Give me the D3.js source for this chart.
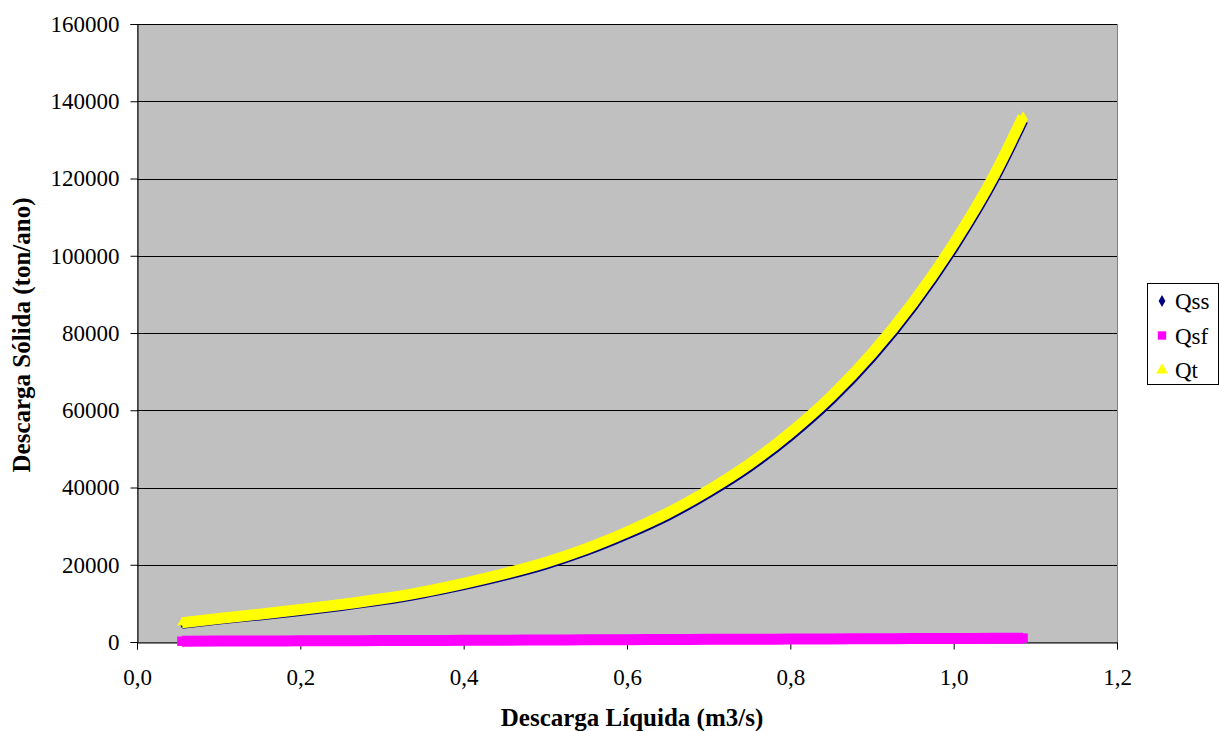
<!DOCTYPE html>
<html><head><meta charset="utf-8">
<script src="https://cdn.jsdelivr.net/npm/d3@7"></script>
<style>body{margin:0;background:#fff}svg{display:block}</style>
</head><body>
<script>
// ---- data ----
const xValues = [0.055,0.1,0.15,0.2,0.25,0.3,0.35,0.4,0.45,0.5,0.55,0.6,0.65,0.7,0.75,0.8,0.85,0.9,0.95,1.0,1.05,1.085];
const qtValues = [5000,6100,7200,8400,9700,11200,13000,15200,17700,20600,24200,28500,33400,39300,46100,54200,63600,74700,87800,103100,121000,136000];
const qsfValues = [200,230,260,300,330,370,400,440,480,520,560,600,640,680,720,760,800,840,880,920,960,1000];
const qssValues = [4800,5870,6940,8100,9370,10830,12600,14760,17220,20080,23640,27900,32760,38620,45380,53440,62800,73860,86920,102180,120040,135000];
const seriesNames = ["Qss","Qsf","Qt"];
const yTicks = [0,20000,40000,60000,80000,100000,120000,140000,160000];
const xTicks = [0,0.2,0.4,0.6,0.8,1.0,1.2];
const xTitle = "Descarga Líquida (m3/s)";
const yTitle = "Descarga Sólida (ton/ano)";

const W = 1219, H = 731;
const plot = {left:137, right:1117, top:24, bottom:642};
const font = "'Liberation Serif','Times New Roman',serif";

const svg = d3.select("body").append("svg").attr("width",W).attr("height",H);

const x = d3.scaleLinear().domain([0,1.2]).range([plot.left,plot.right]);
const y = d3.scaleLinear().domain([0,160000]).range([plot.bottom,plot.top]);

// plot background
svg.append("rect").attr("x",plot.left+0.5).attr("y",plot.top+0.5)
  .attr("width",plot.right-plot.left).attr("height",plot.bottom-plot.top)
  .attr("fill","#C0C0C0").attr("stroke","#808080").attr("stroke-width",1);

// gridlines
svg.append("g").selectAll("line").data(yTicks.filter(d=>d>0)).join("line")
  .attr("x1",plot.left).attr("x2",plot.right)
  .attr("y1",d=>Math.round(y(d))+0.5).attr("y2",d=>Math.round(y(d))+0.5)
  .attr("stroke","#000").attr("stroke-width",1);

// axes
const fmtX = d => d3.format(".1f")(d).replace(".",",");
const yAxis = d3.axisLeft(y).tickValues(yTicks).tickFormat(d3.format("d")).tickSize(7).tickPadding(11);
const xAxis = d3.axisBottom(x).tickValues(xTicks).tickFormat(fmtX).tickSize(7).tickPadding(19);
const gy = svg.append("g").attr("transform",`translate(${plot.left+0.5},0)`).call(yAxis);
const gx = svg.append("g").attr("transform",`translate(0,${plot.bottom+0.5})`).call(xAxis);
[gx,gy].forEach(g=>{
  g.selectAll("text").attr("font-family",font).attr("font-size",23).attr("fill","#000");
  g.selectAll("line").attr("stroke","#000");
  g.select(".domain").attr("stroke","#000");
});

// series
const mk = vals => xValues.map((v,i)=>({x:v,y:vals[i]}));
const line = d3.line().x(d=>x(d.x)).y(d=>y(d.y)).curve(d3.curveMonotoneX);
const series = [
  {name:"Qss", data:mk(qssValues), color:"#000080", width:10.5, sym:d3.symbolDiamond, size:25},
  {name:"Qsf", data:mk(qsfValues), color:"#FF00FF", width:11, sym:d3.symbolSquare, size:90},
  {name:"Qt",  data:mk(qtValues),  color:"#FFFF00", width:11, sym:d3.symbolTriangle, size:40}
];
series.forEach(s=>{
  svg.append("path").datum(s.data).attr("d",line).attr("fill","none")
    .attr("stroke",s.color).attr("stroke-width",s.width).attr("stroke-linecap","butt");
  svg.append("g").selectAll("path").data(s.data).join("path")
    .attr("transform",d=>`translate(${x(d.x)},${y(d.y)})`)
    .attr("d",d3.symbol().type(s.sym).size(s.size)).attr("fill",s.color);
});

// titles
svg.append("text").attr("x",632).attr("y",726)
  .attr("text-anchor","middle").attr("font-family",font).attr("font-weight","bold")
  .attr("font-size",25).text(xTitle);
svg.append("text").attr("transform",`translate(30,${(plot.top+plot.bottom)/2+2}) rotate(-90)`)
  .attr("text-anchor","middle").attr("font-family",font).attr("font-weight","bold")
  .attr("font-size",25).text(yTitle);

// legend
const lg = svg.append("g");
lg.append("rect").attr("x",1147.5).attr("y",283.5).attr("width",71).attr("height",101)
  .attr("fill","#fff").attr("stroke","#000").attr("stroke-width",1);
const legendSyms = [d3.symbolDiamond,d3.symbolSquare,d3.symbolTriangle];
const legendSizes = [40,70,60];
const legendColors = ["#000080","#FF00FF","#FFFF00"];
seriesNames.forEach((n,i)=>{
  const cy = 301 + i*34.5;
  lg.append("path").attr("transform",`translate(1162,${cy})`)
    .attr("d",d3.symbol().type(legendSyms[i]).size(legendSizes[i])).attr("fill",legendColors[i]);
  lg.append("text").attr("x",1175).attr("y",cy+8).attr("font-family",font)
    .attr("font-size",23).text(n);
});
</script>
</body></html>
